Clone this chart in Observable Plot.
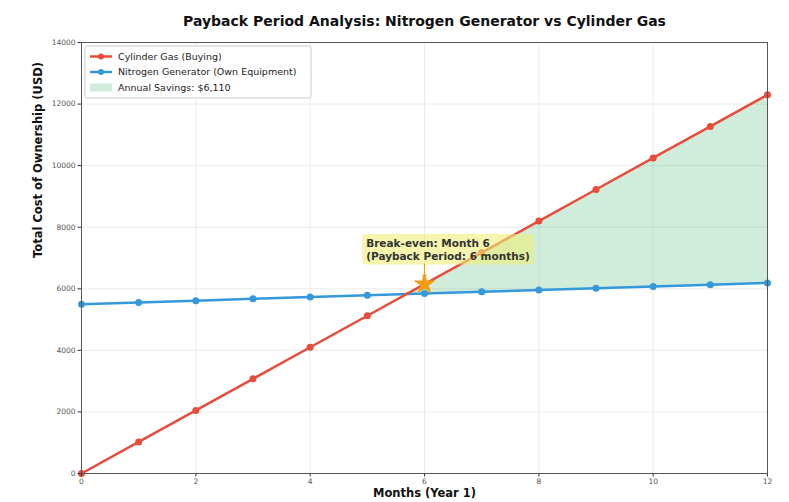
<!DOCTYPE html>
<html><head><meta charset="utf-8">
<script src="https://cdn.jsdelivr.net/npm/d3@7"></script>
<script src="https://cdn.jsdelivr.net/npm/@observablehq/plot@0.6"></script>
<style>body{margin:0;background:#fff;font-family:"DejaVu Sans",sans-serif}</style>
</head><body><div id="chart"></div>
<script>
const months = [0,1,2,3,4,5,6,7,8,9,10,11,12];
const cylinderCost = [0,1025,2050,3075,4100,5125,6150,7175,8200,9225,10250,11275,12300];
const generatorCost = [5500,5557.5,5615,5672.5,5730,5787.5,5845,5902.5,5960,6017.5,6075,6132.5,6190];
const xTicks = [0,2,4,6,8,10,12];
const yTicks = [0,2000,4000,6000,8000,10000,12000,14000];
const breakEvenMonth = 6;
const labels = {
  title: "Payback Period Analysis: Nitrogen Generator vs Cylinder Gas",
  x: "Months (Year 1)",
  y: "Total Cost of Ownership (USD)",
  cyl: "Cylinder Gas (Buying)",
  gen: "Nitrogen Generator (Own Equipment)",
  sav: "Annual Savings: $6,110",
  note: "Break-even: Month 6\n(Payback Period: 6 months)"
};

const red = "#e74c3c", blue = "#3498db", green = "#27ae60", orange = "#f39c12";

const cyl = months.map((m,i)=>({m, v: cylinderCost[i]}));
const gen = months.map((m,i)=>({m, v: generatorCost[i]}));

// savings region: where cylinder > generator, with interpolated crossing
const fill = [];
for (let i = 0; i < months.length; i++) {
  const d = cylinderCost[i] - generatorCost[i];
  if (i > 0) {
    const dp = cylinderCost[i-1] - generatorCost[i-1];
    if (dp <= 0 && d > 0) {
      const t = -dp / (d - dp);
      const mx = months[i-1] + t*(months[i]-months[i-1]);
      const vy = generatorCost[i-1] + t*(generatorCost[i]-generatorCost[i-1]);
      fill.push({m: mx, lo: vy, hi: vy});
    }
  }
  if (d > 0) fill.push({m: months[i], lo: generatorCost[i], hi: cylinderCost[i]});
}

const beIdx = months.indexOf(breakEvenMonth);
const star = [{m: breakEvenMonth, v: cylinderCost[beIdx]}];

const W = 789, H = 502;
const plot = Plot.plot({
  width: W, height: H,
  marginLeft: 81, marginRight: 22, marginTop: 42, marginBottom: 29,
  style: {fontFamily: "DejaVu Sans, sans-serif", fontSize: "7.5px", color: "#333", background: "#fff"},
  x: {domain: [0, 12], ticks: xTicks, label: null},
  y: {domain: [0, 14000], ticks: yTicks, label: null},
  marks: [
    Plot.gridX(xTicks, {stroke: "#b0b0b0", strokeOpacity: 0.3, strokeWidth: 0.8}),
    Plot.gridY(yTicks, {stroke: "#b0b0b0", strokeOpacity: 0.3, strokeWidth: 0.8}),
    Plot.areaY(fill, {x: "m", y1: "lo", y2: "hi", fill: green, fillOpacity: 0.22}),
    Plot.line(gen, {x: "m", y: "v", stroke: blue, strokeWidth: 2.5}),
    Plot.dot(gen, {x: "m", y: "v", fill: blue, r: 3.5}),
    Plot.line(cyl, {x: "m", y: "v", stroke: red, strokeWidth: 2.5}),
    Plot.dot(cyl, {x: "m", y: "v", fill: red, r: 3.5}),
    Plot.text(star, {x: d => d.m - 1.02, y: d => d.v + 1500, text: () => labels.note, textAnchor: "start", lineAnchor: "top",
      fontWeight: "bold", fontSize: 10.5, fill: "#333", lineHeight: 1.2, className: "note"}),
    Plot.arrow(star, {x1: "m", y1: d => d.v + 650, x2: "m", y2: d => d.v + 200, stroke: orange, strokeWidth: 1.2, headLength: 4}),
    Plot.dot(star, {x: "m", y: "v", symbol: "star", fill: orange, r: 6.5, stroke: orange, strokeWidth: 0.5}),
    Plot.axisX({ticks: xTicks, tickSize: 3.5, tickPadding: 2, fontSize: 7.5, fill: "#555"}),
    Plot.axisY({ticks: yTicks, tickSize: 3.5, tickPadding: 2.5, fontSize: 7.5, fill: "#555", tickFormat: d => String(d)}),
    Plot.frame({stroke: "#555", strokeWidth: 1}),
    Plot.text([labels.title], {frameAnchor: "top", dy: -26, fontSize: 14, fontWeight: "bold", fill: "#111"}),
    Plot.text([labels.x], {frameAnchor: "bottom", dy: 23, fontSize: 11.5, fontWeight: "bold", fill: "#111"}),
    Plot.text([labels.y], {frameAnchor: "left", dx: -43, rotate: -90, fontSize: 11.5, fontWeight: "bold", fill: "#111"})
  ]
});
document.getElementById("chart").appendChild(plot);

// annotation background box behind text
const svg = d3.select(plot);
const noteG = plot.querySelector("g.note");
if (noteG) {
  const sr = plot.getBoundingClientRect();
  const b = noteG.getBoundingClientRect();
  d3.select(noteG.parentNode).insert("rect", () => noteG)
    .attr("x", b.left - sr.left - 4).attr("y", b.top - sr.top - 3)
    .attr("width", b.width + 8).attr("height", b.height + 6)
    .attr("rx", 3).attr("fill", "#eeee77").attr("fill-opacity", 0.6);
}

// legend inside plot area
const lg = svg.append("g").attr("transform", "translate(85,46)")
  .style("font-family", "DejaVu Sans, sans-serif").style("font-size", "9.5px").attr("text-anchor", "start");
lg.append("rect").attr("width", 226).attr("height", 52).attr("fill", "#fff").attr("fill-opacity", 0.85).attr("stroke", "#ccc").attr("rx", 2);
const items = [
  {t: labels.cyl, c: red, type: "line"},
  {t: labels.gen, c: blue, type: "line"},
  {t: labels.sav, c: green, type: "patch"}
];
items.forEach((it, i) => {
  const y = 10.5 + i * 15.5;
  if (it.type === "line") {
    lg.append("line").attr("x1", 5).attr("x2", 27).attr("y1", y).attr("y2", y).attr("stroke", it.c).attr("stroke-width", 2.5);
    lg.append("circle").attr("cx", 16).attr("cy", y).attr("r", 3).attr("fill", it.c);
  } else {
    lg.append("rect").attr("x", 5).attr("y", y - 4).attr("width", 22).attr("height", 8).attr("fill", it.c).attr("fill-opacity", 0.22);
  }
  lg.append("text").attr("x", 33).attr("y", y).attr("dy", "0.32em").attr("fill", "#222").attr("text-anchor", "start").text(it.t);
});
</script></body></html>
